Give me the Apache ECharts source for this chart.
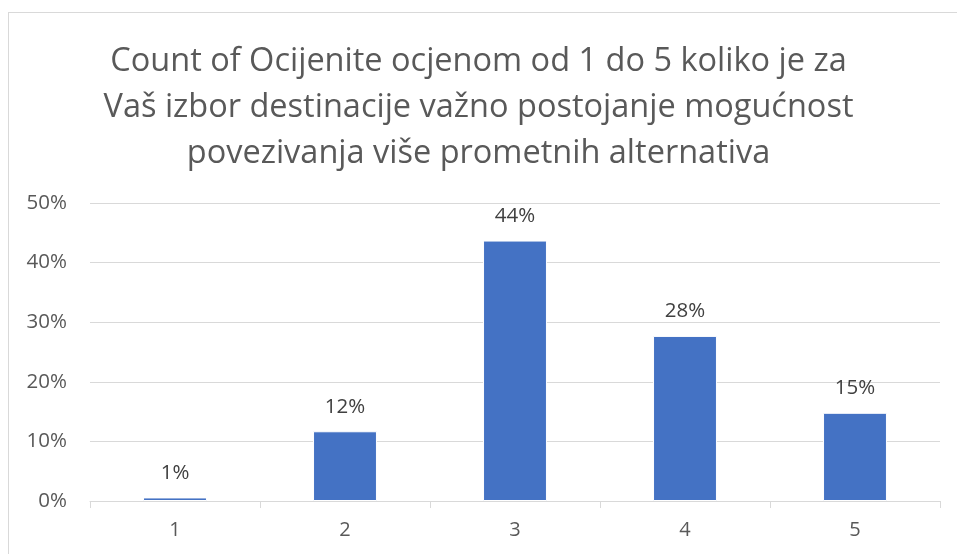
<!DOCTYPE html>
<html>
<head>
<meta charset="utf-8">
<script src="https://cdn.jsdelivr.net/npm/echarts@6/dist/echarts.min.js"></script>
<style>
  html, body { margin: 0; padding: 0; background: #fff; }
  #chart { width: 957px; height: 554px; }
  .frame { position: absolute; left: 8px; top: 12px; right: -2px; bottom: -2px; border: 1px solid #d9d9d9; pointer-events: none; }
</style>
</head>
<body>
<div id="chart"></div>
<div class="frame"></div>
<script>
// ratings 1..5 and share of answers (percent)
const categories = ['1', '2', '3', '4', '5']
const shares = [0.6, 11.7, 43.7, 27.7, 14.8]
const shareLabels = ['1%', '12%', '44%', '28%', '15%']
const yTicks = [0, 10, 20, 30, 40, 50]

const titleText = 'Count of Ocijenite ocjenom od 1 do 5 koliko je za\n'
  + 'Vaš izbor destinacije važno postojanje mogućnost\n'
  + 'povezivanja više prometnih alternativa'

const myChart = echarts.init(document.getElementById('chart'))
const option = {
  animation: false,
  title: {
    text: titleText,
    left: 'center',
    top: 34,
    textStyle: {
      fontFamily: 'Open Sans',
      fontWeight: 'normal',
      fontSize: 32.5,
      lineHeight: 46,
      color: '#595959',
    },
  },
  grid: {
    left: 90,
    right: 17,
    top: 203,
    bottom: 53,
  },
  xAxis: {
    type: 'category',
    data: categories,
    axisLine: { lineStyle: { color: '#d9d9d9', width: 1 } },
    axisTick: { show: true, length: 7, lineStyle: { color: '#d9d9d9' } },
    axisLabel: { color: '#595959', fontSize: 20, fontFamily: 'Open Sans', margin: 19 },
  },
  yAxis: {
    type: 'value',
    min: yTicks[0],
    max: yTicks[yTicks.length - 1],
    interval: 10,
    axisLine: { show: false },
    axisTick: { show: false },
    splitLine: { lineStyle: { color: '#d9d9d9', width: 1 } },
    axisLabel: {
      color: '#595959',
      fontSize: 20.5,
      fontFamily: 'Open Sans',
      margin: 23,
      formatter: (v) => v + '%',
    },
  },
  series: [
    {
      type: 'bar',
      data: shares,
      barWidth: '37.6%',
      itemStyle: { color: '#4472c4', borderColor: '#ffffff', borderWidth: 1 },
      label: {
        show: true,
        position: 'top',
        distance: 14,
        color: '#404040',
        fontSize: 20.5,
        fontFamily: 'Open Sans',
        formatter: (p) => shareLabels[p.dataIndex],
      },
    },
  ],
}
myChart.setOption(option)
</script>
</body>
</html>
